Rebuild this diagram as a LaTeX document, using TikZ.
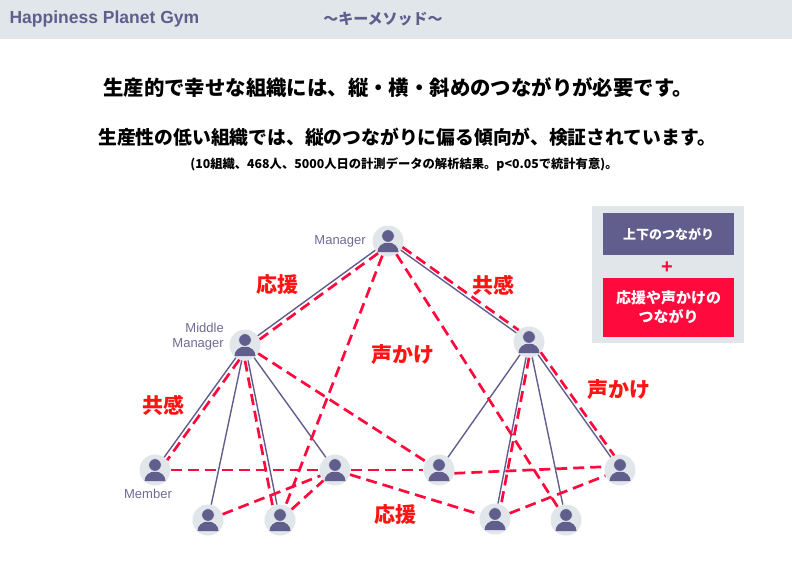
\documentclass[tikz,border=0pt]{standalone}
\usepackage{fontspec}
\setmainfont{Liberation Sans}
\newfontfamily\jp{Noto Sans CJK JP}
\usetikzlibrary{positioning}
\definecolor{gympurple}{HTML}{615D8D}
\definecolor{gymgray}{HTML}{E0E6EA}
\definecolor{linkred}{HTML}{FF0A3C}
\definecolor{labelred}{HTML}{FF1414}
\definecolor{namegray}{HTML}{6E6A96}
\tikzset{
  person/.style={circle, fill=gymgray, minimum size=31pt, inner sep=0pt,
    path picture={
      \fill[gympurple] ([shift={(-10.5pt,-11pt)}]path picture bounding box.center)
        arc[start angle=180, end angle=0, x radius=10.5pt, y radius=9.5pt] -- cycle;
      \fill[gympurple, draw=gymgray, line width=0.8pt] ([yshift=5pt]path picture bounding box.center) circle (6.4pt);
    }},
  tie/.style={gympurple, line width=1.4pt},
  link/.style={linkred, line width=2.7pt, dash pattern=on 11pt off 6pt},
  word/.style={font=\jp\bfseries\fontsize{21}{21}\selectfont, text=labelred},
  role/.style={font=\fontsize{13}{15}\selectfont, text=namegray, align=right}
}
\begin{document}
\begin{tikzpicture}[x=1pt,y=-1pt]
  \useasboundingbox (0,0) rectangle (792,570);

  % Header
  \fill[gymgray] (0,0) rectangle (792,39);
  \node[anchor=west, font=\bfseries\fontsize{17.5}{17.5}\selectfont, text=gympurple] (gym) at (6,19) {Happiness Planet Gym};
  \node[font=\jp\bfseries\fontsize{15}{15}\selectfont, text=gympurple] (method) at (383,19) {～キーメソッド～};

  % Titles
  \node[font=\jp\bfseries\fontsize{20.4}{20.4}\selectfont] (title) at (398,88) {生産的で幸せな組織には、縦・横・斜めのつながりが必要です。};
  \node[font=\jp\bfseries\fontsize{18.8}{18.8}\selectfont] (subtitle) at (407,137) {生産性の低い組織では、縦のつながりに偏る傾向が、検証されています。};
  \node[font=\jp\bfseries\fontsize{12.3}{12.3}\selectfont] (note) at (404,164) {(10組織、468人、5000人日の計測データの解析結果。p<0.05で統計有意)。};

  % Legend
  \fill[gymgray] (592,206) rectangle (744,343);
  \node[fill=gympurple, minimum width=131pt, minimum height=42pt, text=white, font=\jp\bfseries\fontsize{13}{13}\selectfont] (vert) at (668.5,234) {上下のつながり};
  \node[text=linkred, font=\bfseries\fontsize{20}{20}\selectfont] (plus) at (667,268) {+};
  \node[fill=linkred, minimum width=131pt, minimum height=59pt, text=white, align=center, font=\jp\bfseries\fontsize{15}{19}\selectfont] (cross) at (668.5,307) {応援や声かけの\\つながり};

  % People
  \node[person] (boss) at (388,241) {};
  \node[person] (midL) at (245,345) {};
  \node[person] (midR) at (529,342) {};
  \foreach \n/\x/\y in {m1/155/470, m2/208/520, m3/280/520, m4/335/470, m5/439/470, m6/495/519, m7/566/520, m8/620/470}
    \node[person] (\n) at (\x,\y) {};

  \node[role, left=3pt of boss] (bosslabel) {Manager};
  \node[role, anchor=east] (midlabel) at ([xshift=-2pt,yshift=8pt]midL.west) {Middle\\Manager};
  \node[role, below=0pt of m1, xshift=-7pt] (memberlabel) {Member};

  % Vertical ties
  \foreach \a/\b in {boss/midL, boss/midR, midL/m1, midL/m2, midL/m3, midL/m4, midR/m5, midR/m6, midR/m7, midR/m8}
    \draw[tie] (\a) -- (\b);

  % Cheering and calling links
  \draw[link] (boss.231) -- (midL.21);
  \draw[link] (boss.337) -- (midR.131);
  \draw[link] (boss) -- (m3);
  \draw[link] (boss) -- (m7);
  \draw[link] (midL.249) -- (m1.39);
  \draw[link] (midL.270) -- (m3.118);
  \draw[link] (midL) -- (m5);
  \draw[link] (midR.270) -- (m6.67);
  \draw[link] (midR.319) -- (m8.112);
  \draw[link] (m1) -- (m4);
  \draw[link] (m4) -- (m5);
  \draw[link] (m5.-12) -- (m8.168);
  \draw[link] (m4) -- (m6);
  \draw[link] (m2) -- (m4);
  \draw[link] (m3) -- (m4);
  \draw[link] (m6) -- (m8);

  % Labels
  \node[word] (cheer1) at (277,285) {応援};
  \node[word] (empathy1) at (493,285) {共感};
  \node[word] (call1) at (403,355) {声かけ};
  \node[word] (empathy2) at (163,405) {共感};
  \node[word] (call2) at (619,390) {声かけ};
  \node[word] (cheer2) at (395,515) {応援};
\end{tikzpicture}
\end{document}
